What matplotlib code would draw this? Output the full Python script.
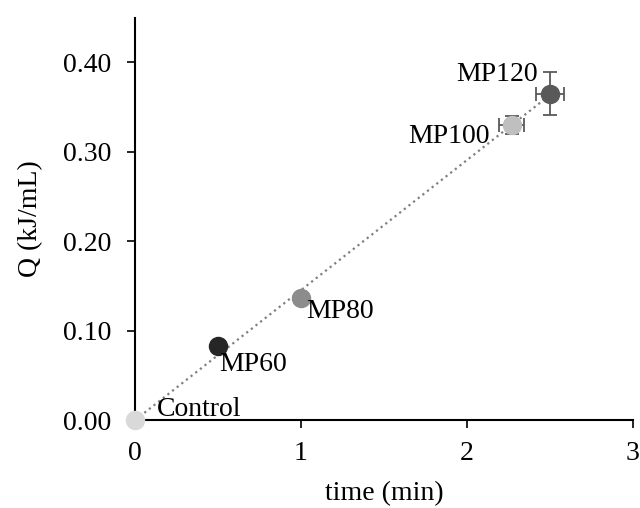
import matplotlib
matplotlib.use("Agg")
import matplotlib.pyplot as plt
import numpy as np

plt.rcParams["font.family"] = ["Liberation Serif", "DejaVu Serif"]
plt.rcParams["font.size"] = 20

# data
labels = ["Control", "MP60", "MP80", "MP100", "MP120"]
time_min = [0.0, 0.5, 1.0, 2.27, 2.5]
q_kj_ml = [0.0, 0.083, 0.137, 0.330, 0.365]
time_err = [0.0, 0.0, 0.0, 0.075, 0.085]
q_err = [0.0, 0.0, 0.0, 0.010, 0.024]
colors = ["#d9d9d9", "#262626", "#8c8c8c", "#bfbfbf", "#595959"]

# label offsets in points (dx, dy to baseline, ha)
label_pos = [(16, 3, "left"), (1, -18, "left"), (4, -15, "left"),
             (-16, -13, "right"), (-9, 9, "right")]

fig = plt.figure(figsize=(6.4, 5.08), dpi=100)
ax = fig.add_axes([0.211, 0.173, 0.778, 0.792])

# linear trend through origin
x = np.array(time_min)
y = np.array(q_kj_ml)
slope = (x * y).sum() / (x * x).sum()
xs = np.array([0, x.max()])
ax.plot(xs, slope * xs, linestyle=":", color="#808080", linewidth=1.6, zorder=1)

for xi, yi, xe, ye, c in zip(time_min, q_kj_ml, time_err, q_err, colors):
    if xe or ye:
        ax.errorbar(xi, yi, xerr=xe, yerr=ye, fmt="none", ecolor="#595959",
                    elinewidth=1.3, capsize=5, capthick=1.3, zorder=2)
    ax.plot(xi, yi, "o", color=c, markersize=13, zorder=3, clip_on=False)

for lab, xi, yi, (dx, dy, ha) in zip(labels, time_min, q_kj_ml, label_pos):
    ax.annotate(lab, (xi, yi), xytext=(dx, dy), textcoords="offset points",
                ha=ha, va="baseline", fontsize=20)

ax.set_xlim(0, 3)
ax.set_ylim(0, 0.45)
ax.set_xticks([0, 1, 2, 3])
ax.set_yticks([0, 0.1, 0.2, 0.3, 0.4])
ax.set_yticklabels([f"{v:.2f}" for v in [0, 0.1, 0.2, 0.3, 0.4]])
ax.spines["top"].set_visible(False)
ax.spines["right"].set_visible(False)
ax.spines["left"].set_linewidth(1.5)
ax.spines["bottom"].set_linewidth(1.5)
ax.tick_params(direction="out", length=6, width=1.2, labelsize=20)
ax.tick_params(axis="x", pad=9)
ax.tick_params(axis="y", pad=11)
ax.set_xlabel("time (min)", fontsize=20, labelpad=11)
ax.set_ylabel("Q (kJ/mL)", fontsize=20, labelpad=14)

fig.savefig("out.png", dpi=100)
